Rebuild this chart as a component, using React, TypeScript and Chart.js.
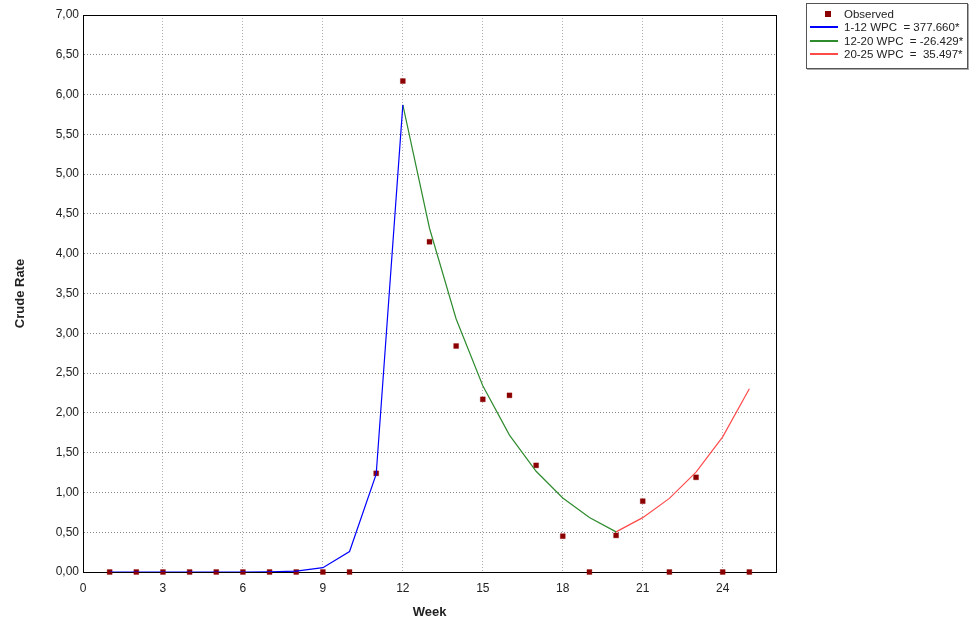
import React, { useEffect, useRef } from "react";
import { Chart, registerables } from "chart.js";

Chart.register(...registerables);

const weeks = [1,2,3,4,5,6,7,8,9,10,11,12,13,14,15,16,17,18,19,20,21,22,23,24,25];
const observed = [0,0,0,0,0,0,0,0,0,0,1.24,6.17,4.15,2.84,2.17,2.22,1.34,0.45,0,0.46,0.89,0,1.19,0,0];

const seg1Weeks = [1,2,3,4,5,6,7,8,9,10,11,12];
const seg1Values = [0,0,0,0,0,0,0.002,0.011,0.054,0.257,1.229,5.87];
const seg2Weeks = [12,13,14,15,16,17,18,19,20];
const seg2Values = [5.87,4.32,3.18,2.34,1.72,1.266,0.93,0.685,0.504];
const seg3Weeks = [20,21,22,23,24,25];
const seg3Values = [0.504,0.683,0.925,1.254,1.699,2.302];

const legendLabels = ["Observed", "1-12 WPC  = 377.660*", "12-20 WPC  = -26.429*", "20-25 WPC  =  35.497*"];
const seriesColors = ["#8b0000", "#0000ff", "#2e8b2e", "#ff4a4a"];

const xTitle = "Week";
const yTitle = "Crude Rate";

const zip = (xs: number[], ys: number[]) => xs.map((x, i) => ({ x, y: ys[i] }));

const borderPlugin = {
  id: "plotBorder",
  beforeDatasetsDraw(chart: any) {
    const { ctx, chartArea } = chart;
    ctx.save();
    ctx.strokeStyle = "#000";
    ctx.lineWidth = 1;
    ctx.strokeRect(chartArea.left + 0.5, chartArea.top + 0.5, chartArea.right - chartArea.left, chartArea.bottom - chartArea.top);
    ctx.restore();
  },
};

export default function App() {
  const ref = useRef<HTMLCanvasElement>(null);
  useEffect(() => {
    const font = "'Liberation Sans', Arial, sans-serif";
    const chart = new Chart(ref.current!, {
      type: "scatter",
      data: {
        datasets: [
          {
            type: "line",
            label: legendLabels[1],
            data: zip(seg1Weeks, seg1Values),
            borderColor: seriesColors[1],
            borderWidth: 1.2,
            pointRadius: 0,
            tension: 0,
          },
          {
            type: "line",
            label: legendLabels[2],
            data: zip(seg2Weeks, seg2Values),
            borderColor: seriesColors[2],
            borderWidth: 1.2,
            pointRadius: 0,
            tension: 0,
          },
          {
            type: "line",
            label: legendLabels[3],
            data: zip(seg3Weeks, seg3Values),
            borderColor: seriesColors[3],
            borderWidth: 1.2,
            pointRadius: 0,
            tension: 0,
          },
          {
            type: "scatter",
            label: legendLabels[0],
            data: zip(weeks, observed),
            backgroundColor: seriesColors[0],
            borderColor: "rgba(139,0,0,0.35)",
            borderWidth: 1,
            pointStyle: "rect",
            pointRadius: 3.5,
            clip: false,
          },
        ],
      } as any,
      options: {
        animation: false,
        responsive: false,
        maintainAspectRatio: false,
        layout: { padding: { top: 15, right: 196, bottom: 0, left: 0 } },
        plugins: { legend: { display: false }, tooltip: { enabled: false } },
        scales: {
          x: {
            type: "linear",
            min: 0,
            max: 26,
            afterFit: (s: any) => { s.height = 52; },
            ticks: { stepSize: 3, includeBounds: false, color: "#222", font: { family: font, size: 12 }, padding: 9, maxRotation: 0 },
            grid: { color: "#b0b0b0", drawTicks: false },
            border: { color: "#000", width: 1, dash: [1, 2] },
            title: { display: true, text: xTitle, color: "#222", font: { family: font, size: 13, weight: "bold" }, padding: { top: 6, bottom: 4 } },
          },
          y: {
            type: "linear",
            min: 0,
            max: 7,
            afterFit: (s: any) => { s.width = 83; },
            ticks: {
              stepSize: 0.5,
              color: "#222",
              font: { family: font, size: 12 },
              padding: 4,
              callback: (v: any) => Number(v).toFixed(2).replace(".", ","),
            },
            grid: { color: "#888", drawTicks: false },
            border: { color: "#000", width: 1, dash: [1, 2] },
            title: { display: true, text: yTitle, color: "#222", font: { family: font, size: 13, weight: "bold" }, padding: { top: 13, bottom: 0 } },
          },
        },
      } as any,
      plugins: [borderPlugin],
    });
    return () => chart.destroy();
  }, []);

  const font = "'Liberation Sans', Arial, sans-serif";
  return (
    <div style={{ position: "fixed", left: 0, top: 0, width: 972, height: 624, background: "#fff" }}>
      <canvas ref={ref} width={972} height={624} style={{ display: "block" }} />
      <div
        style={{
          position: "absolute",
          left: 806,
          top: 3,
          width: 162,
          height: 66,
          border: "1px solid #555",
          boxShadow: "1px 1px 0 #aaa",
          fontFamily: font,
          fontSize: 11.5,
          color: "#222",
          boxSizing: "border-box",
          paddingTop: 3,
        }}
      >
        {legendLabels.map((lab, i) => (
          <div key={i} style={{ display: "flex", alignItems: "center", height: 13.5, whiteSpace: "pre" }}>
            <div style={{ width: 30, marginLeft: 2, display: "flex", justifyContent: "center", alignItems: "center" }}>
              {i === 0 ? (
                <div style={{ width: 6, height: 6, background: seriesColors[0], marginLeft: 8 }} />
              ) : (
                <div style={{ width: 28, height: 2, background: seriesColors[i] }} />
              )}
            </div>
            <span style={{ marginLeft: 5 }}>{lab}</span>
          </div>
        ))}
      </div>
    </div>
  );
}
